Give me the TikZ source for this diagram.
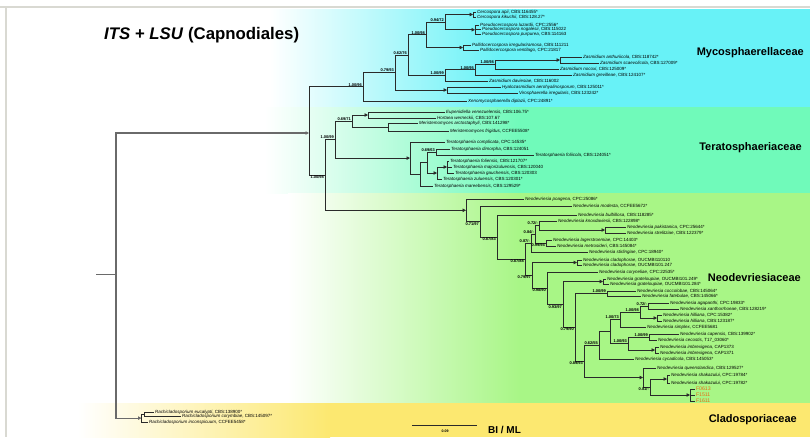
\documentclass[tikz,border=0pt]{standalone}
\usepackage{fontspec}
\setmainfont{Liberation Sans}
\usetikzlibrary{arrows.meta}
\definecolor{bandcyan}{HTML}{68F2F7}
\definecolor{bandmint}{HTML}{70FABA}
\definecolor{bandgreen}{HTML}{A8F686}
\definecolor{bandyellow}{HTML}{FCE870}
\definecolor{treeline}{HTML}{2A2A2A}
\definecolor{rootline}{HTML}{6A6A6A}
\definecolor{framegray}{HTML}{D9D9D2}
\definecolor{leaforange}{HTML}{E86A14}
\newcommand\lfnode[5]{\node[leaf] (#1) at (#2,#3) {\textit{#4}, #5};}
\begin{document}
\begin{tikzpicture}[x=1pt,y=-1pt,
  tl/.style={draw=treeline, line width=0.75pt},
  rl/.style={draw=rootline, line width=1.1pt},
  arr/.style={-{Triangle[length=3.4pt,width=3.4pt]}},
  leaf/.style={anchor=west, inner sep=0.8pt, text=black, font=\fontsize{4.5}{4.5}\selectfont},
  bs/.style={inner sep=0.4pt, text=black, font=\fontsize{4}{4}\selectfont\bfseries},
  ab/.style={bs, anchor=south east},
  be/.style={bs, anchor=north east},
  fam/.style={anchor=east, text=black, inner sep=0pt, font=\fontsize{11}{11}\selectfont\bfseries}]
\useasboundingbox (0,0) rectangle (810,437);
\fill[white] (0,0) rectangle (810,437);
% ---------- bands ----------
\shade[left color=white, right color=bandcyan] (270,9) rectangle (500,107);
\fill[bandcyan] (499.5,9) rectangle (810,107);
\shade[left color=white, right color=bandmint] (265,107) rectangle (520,193);
\fill[bandmint] (519.5,107) rectangle (810,193);
\shade[left color=white, right color=bandgreen] (288,193) rectangle (520,403);
\fill[bandgreen] (519.5,193) rectangle (810,403);
\shade[left color=white, right color=bandyellow] (78,403) rectangle (330,437);
\fill[bandyellow] (329.5,403) rectangle (810,437);
% ---------- frame ----------
\draw[framegray, line width=1.8pt] (0,7) -- (810,7);
\draw[framegray, line width=1.2pt] (6,7) -- (6,437);
% ---------- title and family labels ----------
\node[anchor=west, inner sep=0pt, font=\fontsize{16.8}{17}\selectfont\bfseries] (title) at (104,35) {\textit{ITS} + \textit{LSU} (Capnodiales)};
\node[fam] (famMyc) at (804,53) {Mycosphaerellaceae};
\node[fam] (famTer) at (802,148) {Teratosphaeriaceae};
\node[fam] (famNeo) at (801,278) {Neodevriesiaceae};
\node[fam] (famCla) at (797,420) {Cladosporiaceae};
% ---------- internal nodes ----------
\coordinate (stem) at (96,274.5);
\coordinate (R0) at (116,274.5);
\coordinate (R2) at (309,133);
\coordinate (R3) at (325,174.9);
\coordinate (C1) at (141.5,418.1);
\coordinate (C2) at (144.5,414.25);
% Mycosphaerellaceae
\coordinate (mRoot) at (363,86.8);
\coordinate (mE) at (395,72.55);
\coordinate (mD) at (408,55.1);
\coordinate (mF) at (426,34.8);
\coordinate (mG) at (445,22.1);
\coordinate (mCer) at (473,14.5);
\coordinate (mPse) at (475,29.75);
\coordinate (mPal) at (463,47.5);
\coordinate (mC) at (445,75.4);
\coordinate (mB) at (475,69.75);
\coordinate (mA) at (495,64.5);
\coordinate (mAS) at (560,60);
\coordinate (mHV) at (447,90);
% Teratosphaeriaceae
\coordinate (tRoot) at (335,139.55);
\coordinate (tP) at (352,121);
\coordinate (tP1) at (368,115);
\coordinate (tP2) at (388,127);
\coordinate (tQ) at (410,158.1);
\coordinate (tS) at (420,174.25);
\coordinate (tW) at (427,162.5);
\coordinate (tU) at (436,152);
\coordinate (tX) at (437,173);
\coordinate (tY) at (447,167);
% Neodevriesiaceae
\coordinate (nA) at (466,210.3);
\coordinate (nB) at (480,221.55);
\coordinate (nC) at (497,237.1);
\coordinate (nD) at (525,259.25);
\coordinate (nE1) at (531,243.1);
\coordinate (nE2) at (535,234.25);
\coordinate (nG) at (539,225.5);
\coordinate (nPS) at (605,230);
\coordinate (nLM) at (546,243);
\coordinate (nF) at (532,275.4);
\coordinate (nCL) at (577,262.5);
\coordinate (nG1) at (547,288.25);
\coordinate (nH1) at (563,304.5);
\coordinate (nGR) at (603,281.5);
\coordinate (nI1) at (575,327.45);
\coordinate (nCF) at (607,293.5);
\coordinate (nL) at (584,361.4);
\coordinate (nM) at (599,345.25);
\coordinate (nMa) at (610,331.5);
\coordinate (n73) at (620,319.5);
\coordinate (n98) at (640,312);
\coordinate (n72) at (648,306);
\coordinate (nHI) at (657,318);
\coordinate (n93) at (628,343.5);
\coordinate (n99) at (649,337);
\coordinate (nIM) at (655,350);
\coordinate (nQ) at (643,377.5);
\coordinate (nZ) at (650,387);
\coordinate (nSH) at (667,379);
\coordinate (nFF) at (690,395);
% ---------- leaves ----------
\lfnode{lApi}{476}{12}{Cercospora apii}{CBS:116455*}
\lfnode{lKik}{476}{17}{Cercospora kikuchii}{CBS:128.27*}
\lfnode{lLuz}{479}{25}{Pseudocercospora luzardii}{CPC:2556*}
\lfnode{lNog}{481}{29.5}{Pseudocercospora nogalesii}{CBS:115022}
\lfnode{lPur}{481}{34.5}{Pseudocercospora purpurea}{CBS:114163}
\lfnode{lIrr}{471}{45}{Pallidocercospora irregulariramosa}{CBS:111211}
\lfnode{lVen}{479}{50}{Pallidocercospora ventilago}{CPC:21817}
\lfnode{lAnt}{582}{57}{Zasmidium anthuriicola}{CBS:118742*}
\lfnode{lSca}{599}{63}{Zasmidium scaevolicola}{CBS:127009*}
\lfnode{lNoc}{559}{69}{Zasmidium nocoxi}{CBS:125009*}
\lfnode{lGre}{572}{75}{Zasmidium grevilleae}{CBS:124107*}
\lfnode{lDav}{488}{81}{Zasmidium daviesiae}{CBS:116002}
\lfnode{lHya}{501}{87}{Hyalozasmidium aerohyalinosporum}{CBS:125011*}
\lfnode{lVir}{518}{93}{Virosphaerella irregularis}{CBS:123242*}
\lfnode{lXen}{467}{101}{Xenomycosphaerella diplazii}{CPC:24891*}
\lfnode{lEup}{445}{112}{Eupenidiella venezuelensis}{CBS:106.75*}
\lfnode{lHor}{436}{118}{Hortaea werneckii}{CBS:107.67}
\lfnode{lMar}{418}{123}{Meristemomyces arctostaphyli}{CBS:141298*}
\lfnode{lMfr}{449}{131}{Meristemomyces frigidus}{CCFEE5508*}
\lfnode{lCom}{445}{142}{Teratosphaeria complicata}{CPC:14535*}
\lfnode{lDim}{450}{149}{Teratosphaeria dimorpha}{CBS:124051}
\lfnode{lFol}{534}{155}{Teratosphaeria foliicola}{CBS:124051*}
\lfnode{lFos}{449}{161}{Teratosphaeria foliensis}{CBS:121707*}
\lfnode{lMaj}{452}{167}{Teratosphaeria majorizuluensis}{CBS:120040}
\lfnode{lGau}{454}{173}{Teratosphaeria gauchensis}{CBS:120303}
\lfnode{lZul}{442}{179}{Teratosphaeria zuluensis}{CBS:120301*}
\lfnode{lMae}{433}{186}{Teratosphaeria mareebensis}{CBS:129529*}
\lfnode{lPoa}{524}{199}{Neodevriesia poagena}{CPC:25086*}
\lfnode{lMod}{572}{206}{Neodevriesia modesta}{CCFEE5672*}
\lfnode{lBul}{577}{215}{Neodevriesia bulbillosa}{CBS:118285*}
\lfnode{lKno}{557}{221}{Neodevriesia knoxdaviesii}{CBS:122898*}
\lfnode{lPak}{626}{227}{Neodevriesia pakistanica}{CPC:25644*}
\lfnode{lStr}{626}{233}{Neodevriesia strelitziae}{CBS:122379*}
\lfnode{lLag}{552}{240}{Neodevriesia lagerstroemiae}{CPC:14403*}
\lfnode{lMet}{556}{246}{Neodevriesia metrosideri}{CBS:145084*}
\lfnode{lSti}{588}{252}{Neodevriesia stirlingiae}{CPC:18940*}
\lfnode{lCl1}{582}{260}{Neodevriesia cladophorae}{OUCMBI110110}
\lfnode{lCl2}{582}{265}{Neodevriesia cladophorae}{OUCMBI101.247}
\lfnode{lCor}{598}{272}{Neodevriesia coryneliae}{CPC:22535*}
\lfnode{lGr1}{606}{279}{Neodevriesia grateloupiae}{OUCMBI101.249*}
\lfnode{lGr2}{609}{284}{Neodevriesia grateloupiae}{OUCMBI101.284*}
\lfnode{lCoc}{636}{291}{Neodevriesia coccolobae}{CBS:145064*}
\lfnode{lFat}{641}{296}{Neodevriesia fatebulae}{CBS:145066*}
\lfnode{lAga}{669}{303}{Neodevriesia agapanthi}{CPC:19833*}
\lfnode{lXan}{679}{309}{Neodevriesia xanthorrhoeae}{CBS:128219*}
\lfnode{lHi1}{662}{315}{Neodevriesia hilliana}{CPC:15382*}
\lfnode{lHi2}{662}{321}{Neodevriesia hilliana}{CBS:123187*}
\lfnode{lSim}{646}{327}{Neodevriesia simplex}{CCFEE5681}
\lfnode{lCap}{679}{334}{Neodevriesia capensis}{CBS:139902*}
\lfnode{lCec}{657}{340}{Neodevriesia cecostis}{T17\_03060*}
\lfnode{lIm1}{659}{347}{Neodevriesia imbrexigena}{CAP1373}
\lfnode{lIm2}{659}{353}{Neodevriesia imbrexigena}{CAP1371}
\lfnode{lCyc}{634}{359}{Neodevriesia cycadicola}{CBS:145053*}
\lfnode{lQue}{656}{368}{Neodevriesia queenslandica}{CBS:129527*}
\lfnode{lSh1}{670}{375}{Neodevriesia shakazului}{CPC:19784*}
\lfnode{lSh2}{670}{383}{Neodevriesia shakazului}{CPC:19782*}
\node[leaf, text=leaforange, font=\fontsize{5.2}{5.2}\selectfont] (lF1) at (695,389) {F0613};
\node[leaf, text=leaforange, font=\fontsize{5.2}{5.2}\selectfont] (lF2) at (695,395) {F1511};
\node[leaf, text=leaforange, font=\fontsize{5.2}{5.2}\selectfont] (lF3) at (695,401) {F1611};
\lfnode{lEuc}{154}{412}{Rachicladosporium eucalypti}{CBS:138900*}
\lfnode{lCry}{181}{416.5}{Rachicladosporium corymbiae}{CBS:145097*}
\lfnode{lInc}{148}{422}{Rachicladosporium inconspicuum}{CCFEE5458*}
% ---------- branches ----------
\draw[rl] (stem) -- (R0);
\draw[rl,arr] (R0) |- (R2);
\draw[rl,arr] (R0) |- (C1);
\draw[tl] (C1) |- (C2);
\draw[tl] (C1) |- (lInc.west);
\draw[tl] (C2) |- (lEuc.west);
\draw[tl] (C2) |- (lCry.west);
\draw[tl] (R2) |- (mRoot);
\draw[tl] (R2) |- (R3);
% Mycosphaerellaceae
\draw[tl] (mRoot) |- (mE);
\draw[tl] (mRoot) |- (lXen.west);
\draw[tl] (mE) |- (mD);
\draw[tl,arr] (mE) |- (mHV);
\draw[tl] (mD) |- (mF);
\draw[tl] (mD) |- (mC);
\draw[tl] (mF) |- (mG);
\draw[tl,arr] (mF) |- (mPal);
\draw[tl,arr] (mG) |- (mCer);
\draw[tl,arr] (mG) |- (mPse);
\draw[tl] (mCer) |- (lApi.west);
\draw[tl] (mCer) |- (lKik.west);
\draw[tl] (mPse) |- (lLuz.west);
\draw[tl] (mPse) |- (lNog.west);
\draw[tl] (mPse) |- (lPur.west);
\draw[tl] (mPal) |- (lIrr.west);
\draw[tl] (mPal) |- (lVen.west);
\draw[tl] (mC) |- (mB);
\draw[tl] (mC) |- (lDav.west);
\draw[tl] (mB) |- (mA);
\draw[tl] (mB) |- (lGre.west);
\draw[tl,arr] (mA) |- (mAS);
\draw[tl] (mA) |- (lNoc.west);
\draw[tl] (mAS) |- (lAnt.west);
\draw[tl] (mAS) |- (lSca.west);
\draw[tl] (mHV) |- (lHya.west);
\draw[tl] (mHV) |- (lVir.west);
% Teratosphaeriaceae
\draw[tl] (R3) |- (tRoot);
\draw[tl,arr] (R3) |- (nA);
\draw[tl] (tRoot) |- (tP);
\draw[tl,arr] (tRoot) |- (tQ);
\draw[tl,arr] (tP) |- (tP1);
\draw[tl] (tP) |- (tP2);
\draw[tl] (tP1) |- (lEup.west);
\draw[tl] (tP1) |- (lHor.west);
\draw[tl] (tP2) |- (lMar.west);
\draw[tl] (tP2) |- (lMfr.west);
\draw[tl] (tQ) |- (lCom.west);
\draw[tl] (tQ) |- (tS);
\draw[tl] (tS) |- (tW);
\draw[tl] (tS) |- (lMae.west);
\draw[tl] (tW) |- (tU);
\draw[tl,arr] (tW) |- (tX);
\draw[tl] (tU) |- (lDim.west);
\draw[tl] (tU) |- (lFol.west);
\draw[tl,arr] (tX) |- (tY);
\draw[tl] (tX) |- (lZul.west);
\draw[tl] (tY) |- (lFos.west);
\draw[tl] (tY) |- (lMaj.west);
\draw[tl] (tY) |- (lGau.west);
% Neodevriesiaceae
\draw[tl] (nA) |- (lPoa.west);
\draw[tl] (nA) |- (nB);
\draw[tl] (nB) |- (lMod.west);
\draw[tl] (nB) |- (nC);
\draw[tl] (nC) |- (lBul.west);
\draw[tl] (nC) |- (nD);
\draw[tl] (nD) |- (nE1);
\draw[tl] (nD) |- (nF);
\draw[tl] (nE1) |- (nE2);
\draw[tl] (nE1) |- (lSti.west);
\draw[tl] (nE2) |- (nG);
\draw[tl] (nE2) |- (nLM);
\draw[tl] (nG) |- (lKno.west);
\draw[tl,arr] (nG) |- (nPS);
\draw[tl] (nPS) |- (lPak.west);
\draw[tl] (nPS) |- (lStr.west);
\draw[tl] (nLM) |- (lLag.west);
\draw[tl] (nLM) |- (lMet.west);
\draw[tl,arr] (nF) |- (nCL);
\draw[tl] (nF) |- (nG1);
\draw[tl] (nCL) |- (lCl1.west);
\draw[tl] (nCL) |- (lCl2.west);
\draw[tl] (nG1) |- (lCor.west);
\draw[tl] (nG1) |- (nH1);
\draw[tl,arr] (nH1) |- (nGR);
\draw[tl] (nH1) |- (nI1);
\draw[tl] (nGR) |- (lGr1.west);
\draw[tl] (nGR) |- (lGr2.west);
\draw[tl] (nI1) |- (nCF);
\draw[tl] (nI1) |- (nL);
\draw[tl] (nCF) |- (lCoc.west);
\draw[tl] (nCF) |- (lFat.west);
\draw[tl] (nL) |- (nM);
\draw[tl,arr] (nL) |- (nQ);
\draw[tl] (nM) |- (nMa);
\draw[tl] (nM) |- (lCyc.west);
\draw[tl] (nMa) |- (n73);
\draw[tl] (nMa) |- (n93);
\draw[tl] (n73) |- (n98);
\draw[tl] (n73) |- (lSim.west);
\draw[tl] (n98) |- (n72);
\draw[tl,arr] (n98) |- (nHI);
\draw[tl] (n72) |- (lAga.west);
\draw[tl] (n72) |- (lXan.west);
\draw[tl] (nHI) |- (lHi1.west);
\draw[tl] (nHI) |- (lHi2.west);
\draw[tl] (n93) |- (n99);
\draw[tl,arr] (n93) |- (nIM);
\draw[tl] (n99) |- (lCap.west);
\draw[tl] (n99) |- (lCec.west);
\draw[tl] (nIM) |- (lIm1.west);
\draw[tl] (nIM) |- (lIm2.west);
\draw[tl] (nQ) |- (lQue.west);
\draw[tl] (nQ) |- (nZ);
\draw[tl,arr] (nZ) |- (nSH);
\draw[tl,arr] (nZ) |- (nFF);
\draw[tl] (nSH) |- (lSh1.west);
\draw[tl] (nSH) |- (lSh2.west);
\draw[tl] (nFF) |- (lF1.west);
\draw[tl] (nFF) |- (lF2.west);
\draw[tl] (nFF) |- (lF3.west);
% ---------- support values ----------
\node[be] (sR3) at ([xshift=-0.5pt]R3) {1.00/98};
\node[ab] (smRoot) at ([xshift=-0.5pt]mRoot) {1.00/96};
\node[ab] (smE) at ([xshift=-0.5pt]mE) {0.79/93};
\node[ab] (smD) at ([xshift=-0.5pt]mD) {0.62/76};
\node[ab] (smF) at ([xshift=-0.5pt]mF) {1.00/98};
\node[ab] (smG) at ([xshift=-0.5pt]mG) {0.94/72};
\node[ab] (smC) at ([xshift=-0.5pt]mC) {1.00/99};
\node[ab] (smB) at ([xshift=-0.5pt]mB) {1.00/95};
\node[ab] (smA) at ([xshift=-0.5pt]mA) {1.00/98};
\node[ab] (stRoot) at ([xshift=-0.5pt]tRoot) {1.00/99};
\node[ab] (stP) at ([xshift=-0.5pt]tP) {0.69/71};
\node[ab] (stU) at ([xshift=-0.5pt]tU) {0.69/63};
\node[be] (snB) at ([xshift=-0.5pt]nB) {0.71/97};
\node[be] (snC) at ([xshift=-0.5pt]nC) {0.87/83};
\node[be] (snD) at ([xshift=-0.5pt]nD) {0.87/88};
\node[ab] (snG) at ([xshift=-0.5pt]nG) {0.72/-};
\node[ab] (snE2) at ([xshift=-0.5pt]nE2) {0.84/-};
\node[ab] (snE1) at ([xshift=-0.5pt]nE1) {0.87/-};
\node[be] (snLM) at ([xshift=-0.5pt]nLM) {0.99/94};
\node[be] (snF) at ([xshift=-0.5pt]nF) {0.79/97};
\node[be] (snG1) at ([xshift=-0.5pt]nG1) {0.98/90};
\node[be] (snH1) at ([xshift=-0.5pt]nH1) {0.93/97};
\node[be] (snI1) at ([xshift=-0.5pt]nI1) {0.79/90};
\node[ab] (snCF) at ([xshift=-0.5pt]nCF) {1.00/99};
\node[be] (snL) at ([xshift=-0.5pt]nL) {0.89/93};
\node[ab] (snM) at ([xshift=-0.5pt]nM) {0.62/55};
\node[ab] (sn73) at ([xshift=-0.5pt]n73) {1.00/73};
\node[ab] (sn98) at ([xshift=-0.5pt]n98) {1.00/98};
\node[ab] (sn72) at ([xshift=-0.5pt]n72) {0.72/-};
\node[ab] (sn93) at ([xshift=-0.5pt]n93) {1.00/93};
\node[ab] (sn99) at ([xshift=-0.5pt]n99) {1.00/99};
\node[be] (snZ) at ([xshift=-0.5pt]nZ) {0.81/-};
% ---------- scale bar ----------
\coordinate (sb1) at (412,425);
\coordinate (sb2) at (477,425);
\draw[tl] (sb1) -- (sb2);
\node[bs, font=\fontsize{3.6}{3.6}\selectfont\bfseries] (sbl) at (445,431.5) {0.09};
\node[inner sep=0pt, font=\fontsize{10}{10}\selectfont\bfseries] (biml) at (504.5,430) {BI / ML};
\end{tikzpicture}
\end{document}
